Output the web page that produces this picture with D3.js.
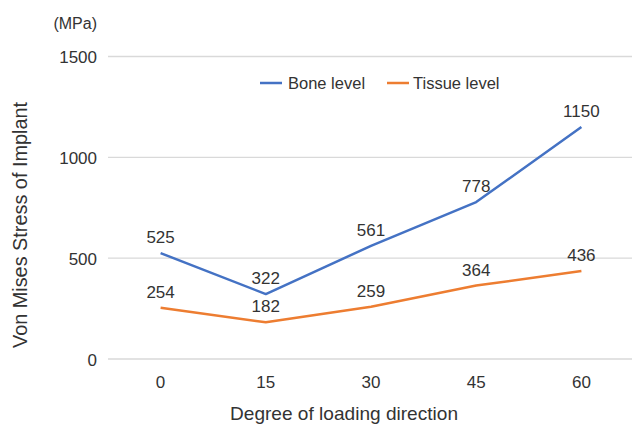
<!DOCTYPE html>
<html><head><meta charset="utf-8">
<script src="https://cdn.jsdelivr.net/npm/d3@7"></script>
<style>body{margin:0;background:#fff}text{font-family:"Liberation Sans",Arial,sans-serif;fill:#333}</style>
</head><body><svg id="c" width="632" height="427"></svg>
<script>
const categories = ["0","15","30","45","60"];
const boneLevel = [525,322,561,778,1150];
const tissueLevel = [254,182,259,364,436];
const yTicks = [0,500,1000,1500];
const seriesNames = ["Bone level","Tissue level"];
const colors = ["#4472C4","#ED7D31"];

const svg = d3.select("#c");
const x = d3.scalePoint().domain(categories).range([108,634]).padding(0.5);
const y = d3.scaleLinear().domain([0,1500]).range([359,56.5]);

svg.append("g").selectAll("line").data(yTicks).join("line")
  .attr("x1",108).attr("x2",632).attr("y1",d=>y(d)).attr("y2",d=>y(d))
  .attr("stroke","#d9d9d9").attr("stroke-width",1.3);
svg.append("g").selectAll("text").data(yTicks).join("text")
  .attr("x",97).attr("y",d=>y(d)+6.5).attr("text-anchor","end").attr("font-size",17).text(d=>d);
svg.append("g").selectAll("text").data(categories).join("text")
  .attr("x",d=>x(d)).attr("y",387.5).attr("text-anchor","middle").attr("font-size",17).text(d=>d);
svg.append("text").attr("x",97).attr("y",29).attr("text-anchor","end").attr("font-size",16).text("(MPa)");
svg.append("text").attr("x",344).attr("y",420).attr("text-anchor","middle").attr("font-size",19)
  .attr("textLength",228).attr("lengthAdjust","spacingAndGlyphs").text("Degree of loading direction");
svg.append("text").attr("transform","translate(27,225) rotate(-90)").attr("text-anchor","middle").attr("font-size",19.5)
  .attr("textLength",246).attr("lengthAdjust","spacingAndGlyphs").text("Von Mises Stress of Implant");

const line = d3.line().x((d,i)=>x(categories[i])).y(d=>y(d));
[boneLevel,tissueLevel].forEach((s,k)=>{
  svg.append("path").datum(s).attr("d",line).attr("fill","none").attr("stroke",colors[k]).attr("stroke-width",2.5).attr("stroke-linejoin","round");
  svg.append("g").selectAll("text").data(s).join("text")
    .attr("x",(d,i)=>x(categories[i])).attr("y",d=>y(d)-10).attr("text-anchor","middle").attr("font-size",17).text(d=>d);
});

const lg = [{x:260,tx:288},{x:387,tx:413}];
lg.forEach((p,k)=>{
  svg.append("line").attr("x1",p.x).attr("x2",p.x+22).attr("y1",83).attr("y2",83).attr("stroke",colors[k]).attr("stroke-width",2.5);
  svg.append("text").attr("x",p.tx).attr("y",89).attr("font-size",16.5).text(seriesNames[k]);
});
</script></body></html>
